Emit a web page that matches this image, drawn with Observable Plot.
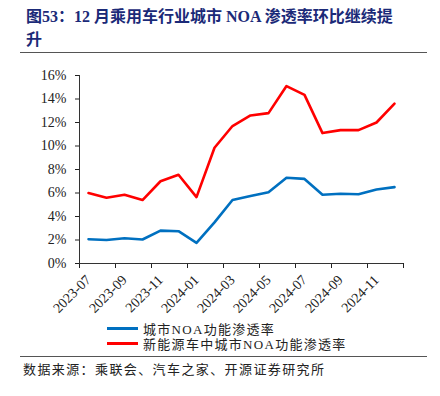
<!DOCTYPE html>
<html><head><meta charset="utf-8">
<script src="https://cdn.jsdelivr.net/npm/d3@7"></script>
<script src="https://cdn.jsdelivr.net/npm/@observablehq/plot@0.6"></script>
<style>
body{margin:0;width:440px;height:396px;background:#fff;position:relative;overflow:hidden;font-family:"Liberation Serif","Noto Sans CJK SC",serif;color:#222;}
#title{position:absolute;left:26px;top:5px;width:410px;font-size:16px;font-weight:bold;color:#1b2a78;line-height:23px;white-space:pre;}
.rule{position:absolute;left:20px;width:407px;height:0;border-top:1.5px solid #555;}
#chart{position:absolute;left:0;top:55px;}
#legend{position:absolute;left:107px;top:321px;font-size:13px;letter-spacing:1.3px;}
.item{display:flex;align-items:center;height:15px;}
.sw{width:31px;height:3px;margin-right:5px;}
#source{position:absolute;left:23px;top:359px;font-size:13px;letter-spacing:1.4px;}
</style>
</head><body>
<div id="title">图53：12 月乘用车行业城市 NOA 渗透率环比继续提
升</div>
<div class="rule" style="top:52px"></div>
<div id="chart"></div>
<div id="legend"></div>
<div class="rule" style="top:356px"></div>
<div id="source">数据来源：乘联会、汽车之家、开源证券研究所</div>
<script>
const months = ["2023-07","2023-08","2023-09","2023-10","2023-11","2023-12","2024-01","2024-02","2024-03","2024-04","2024-05","2024-06","2024-07","2024-08","2024-09","2024-10","2024-11","2024-12"];
const cityNOA = [2.07,2.0,2.15,2.04,2.8,2.75,1.76,3.5,5.4,5.75,6.07,7.3,7.2,5.85,5.93,5.9,6.3,6.5];
const nevCityNOA = [6.0,5.6,5.85,5.4,7.0,7.55,5.65,9.85,11.7,12.6,12.8,15.1,14.35,11.1,11.35,11.35,12.0,13.6];
const seriesNames = ["城市NOA功能渗透率","新能源车中城市NOA功能渗透率"];
const seriesColors = ["#0070C0","#FF0000"];
const yTicks = [0,2,4,6,8,10,12,14,16];

const rows = [];
months.forEach((m,i)=>{
  rows.push({i:i+0.5, v:cityNOA[i], s:seriesNames[0]});
  rows.push({i:i+0.5, v:nevCityNOA[i], s:seriesNames[1]});
});

const chart = Plot.plot({
  width:440, height:263,
  marginLeft:79, marginRight:37, marginTop:20, marginBottom:55,
  style:{fontFamily:"Liberation Serif", fontSize:"14px", color:"#222", background:"#fff"},
  x:{domain:[0,months.length]},
  y:{domain:[0,16]},
  color:{domain:seriesNames, range:seriesColors},
  marks:[
    Plot.axisY({ticks:yTicks, tickFormat:d=>d+"%", tickSize:4, tickPadding:9, fontSize:14, label:null}),
    Plot.axisX({ticks:d3.range(0,months.length+1,2), tickFormat:()=>"", tickSize:5, label:null}),
    Plot.axisX({ticks:d3.range(0,months.length,2).map(i=>i+0.5), tickFormat:d=>months[Math.round(d-0.5)], tickSize:0, tickPadding:14, tickRotate:-45, fontSize:14, label:null}),
    Plot.ruleX([0],{stroke:"#333"}),
    Plot.ruleY([0],{stroke:"#333"}),
    Plot.line(rows,{x:"i", y:"v", z:"s", stroke:"s", strokeWidth:2.6})
  ]
});
document.getElementById("chart").appendChild(chart);

const lg = document.getElementById("legend");
seriesNames.forEach((n,k)=>{
  const d = document.createElement("div"); d.className="item";
  d.innerHTML = `<span class="sw" style="background:${seriesColors[k]}"></span><span>${n}</span>`;
  lg.appendChild(d);
});
</script>
</body></html>
